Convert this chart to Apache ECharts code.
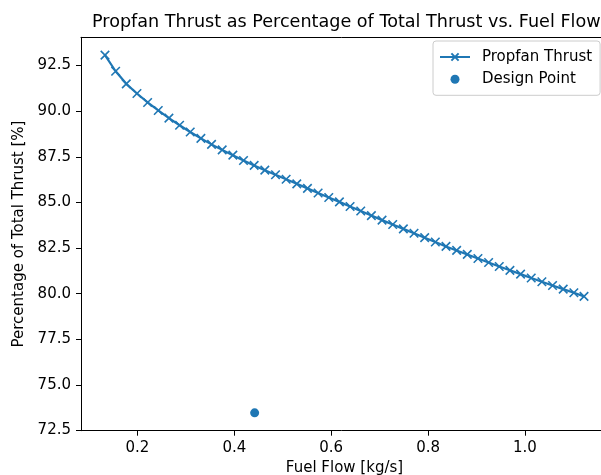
<!DOCTYPE html>
<html>
<head>
<meta charset="utf-8">
<script src="https://cdn.jsdelivr.net/npm/echarts@6/dist/echarts.min.js"></script>
<style>
html,body{margin:0;padding:0;background:#fff;overflow:hidden;}
#chart{width:601px;height:475px;}
</style>
</head>
<body>
<div id="chart"></div>
<script>
// Data
const fuelFlow = [0.133,0.155,0.177,0.199,0.221,0.243,0.265,0.287,0.309,0.331,
  0.353,0.375,0.397,0.419,0.441,0.463,0.485,0.507,0.529,0.551,
  0.573,0.595,0.617,0.639,0.661,0.683,0.705,0.727,0.749,0.771,
  0.793,0.815,0.837,0.859,0.881,0.903,0.925,0.947,0.969,0.991,
  1.013,1.035,1.057,1.079,1.101,1.122];
const propfanThrust = [93.07,92.19,91.50,90.97,90.48,90.04,89.62,89.23,88.86,88.51,
  88.18,87.88,87.59,87.30,87.03,86.77,86.52,86.27,86.02,85.77,
  85.52,85.27,85.03,84.78,84.53,84.28,84.03,83.79,83.55,83.31,
  83.07,82.83,82.59,82.37,82.15,81.93,81.71,81.49,81.28,81.07,
  80.86,80.65,80.45,80.25,80.05,79.85];
const designFlow = [0.442];
const designThrust = [73.47];
const xTicks = [0.2,0.4,0.6,0.8,1.0];
const yTicks = [72.5,75.0,77.5,80.0,82.5,85.0,87.5,90.0,92.5];

const seriesLine = fuelFlow.map((x,i)=>[x, propfanThrust[i]]);
const seriesDesign = designFlow.map((x,i)=>[x, designThrust[i]]);

const FONT = 'DejaVu Sans';
const BLUE = '#1f77b4';
const FS = 15;
const xMark = 'path://M0,0L10,10M10,0L0,10';
const X_MIN = 0.0835, X_MAX = 1.1715;

const chart = echarts.init(document.getElementById('chart'), null, {renderer:'canvas'});
chart.setOption({
  animation: false,
  backgroundColor: '#fff',
  textStyle: {fontFamily: FONT},
  title: {
    text: 'Propfan Thrust as Percentage of Total Thrust vs. Fuel Flow',
    left: 87, top: 8,
    textStyle: {fontFamily: FONT, fontSize: 17.6, fontWeight: 'normal', color: '#000'}
  },
  legend: {
    orient: 'vertical',
    left: 433, top: 41,
    padding: [8, 8, 8, 6],
    itemGap: 6.3,
    itemWidth: 30, itemHeight: 9,
    backgroundColor: 'rgba(255,255,255,0.8)',
    borderColor: '#cccccc', borderWidth: 1, borderRadius: 3,
    textStyle: {fontFamily: FONT, fontSize: FS, color: '#000', lineHeight: 16, padding: [0,0,0,7]},
    data: [
      {name: 'Propfan Thrust'},
      {name: 'Design Point', icon: 'circle'}
    ]
  },
  grid: {left: 81, top: 37.3, width: 527, height: 393.4, outerBoundsMode: 'none', containLabel: false,
    show: false},
  xAxis: [{
    type: 'value', min: X_MIN, max: X_MAX, position: 'bottom',
    name: 'Fuel Flow [kg/s]', nameLocation: 'middle', nameGap: 30,
    nameTextStyle: {fontFamily: FONT, fontSize: FS, color: '#000'},
    axisLine: {show: true, lineStyle: {color: '#000', width: 1}},
    axisTick: {show: true, inside: false, length: 5, customValues: xTicks, lineStyle: {color: '#000', width: 1}},
    axisLabel: {show: true, margin: 10, customValues: xTicks, fontFamily: FONT, fontSize: FS, color: '#000',
      formatter: v => Number(v).toFixed(1)},
    splitLine: {show: false}
  }, {
    type: 'value', min: X_MIN, max: X_MAX, position: 'top',
    axisLine: {show: true, onZero: false, lineStyle: {color: '#000', width: 1}},
    axisTick: {show: false}, axisLabel: {show: false}, splitLine: {show: false}
  }],
  yAxis: {
    type: 'value', min: 72.49, max: 94.05,
    name: 'Percentage of Total Thrust [%]', nameLocation: 'middle', nameGap: 45,
    nameTextStyle: {fontFamily: FONT, fontSize: FS, color: '#000'},
    axisLine: {show: true, lineStyle: {color: '#000', width: 1}},
    axisTick: {show: true, inside: false, length: 5, customValues: yTicks, lineStyle: {color: '#000', width: 1}},
    axisLabel: {show: true, margin: 10, customValues: yTicks, fontFamily: FONT, fontSize: FS, color: '#000',
      formatter: v => Number(v).toFixed(1)},
    splitLine: {show: false}
  },
  series: [
    {
      name: 'Propfan Thrust', type: 'line', data: seriesLine, xAxisIndex: 0,
      symbol: xMark, symbolSize: 8.5, showSymbol: true,
      lineStyle: {color: BLUE, width: 2.2},
      itemStyle: {color: BLUE, borderColor: BLUE, borderWidth: 1.6},
      z: 3
    },
    {
      name: 'Design Point', type: 'scatter', data: seriesDesign, xAxisIndex: 0,
      symbol: 'circle', symbolSize: 9,
      itemStyle: {color: BLUE, opacity: 1},
      z: 4
    }
  ]
});
</script>
</body>
</html>
